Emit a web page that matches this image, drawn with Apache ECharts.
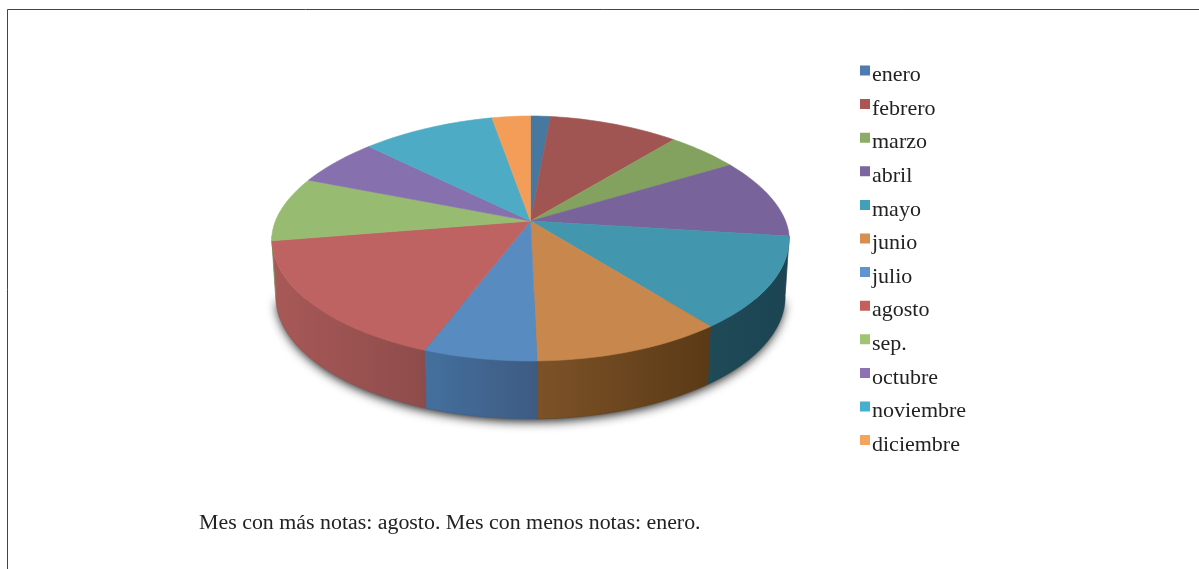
<!DOCTYPE html>
<html><head><meta charset="utf-8">
<style>html,body{margin:0;padding:0;background:#fff}#c{width:1199px;height:569px}</style>
<script src="https://cdn.jsdelivr.net/npm/echarts@6/dist/echarts.min.js"></script>
</head><body><div id="c"></div>
<script>
const months = ['enero','febrero','marzo','abril','mayo','junio','julio','agosto','sep.','octubre','noviembre','diciembre'];
const notes = [1.7,9.8,5.2,10.3,12.3,10.4,6.2,16.6,8.4,6.1,9.9,3.2];
const topColors = ['#47789f','#a05552','#84a25f','#78639a','#4296ad','#c8874c','#588bc0','#be6361','#98bb72','#8670ae','#4dabc5','#f49d58'];
const legendColors = ['#4f7cb0','#ab5652','#8cac67','#7d66a0','#40a0b8','#d68f50','#5f94cf','#c45f5c','#9fc474','#8c72b4','#45b0cd','#f6a35e'];
const wallLeft = ['#3a6080','#804440','#6c8550','#635080','#1f4a58','#7d5228','#44709e','#a85957','#7c9a5c','#6e5a90','#3e8aa0','#c07f45'];
const wallRight = ['#3a6080','#804440','#6c8550','#635080','#1c4452','#5a3a16','#3e5b82','#8d4c4b','#7c9a5c','#6e5a90','#3e8aa0','#c07f45'];
const noteText = 'Mes con más notas: agosto. Mes con menos notas: enero.';

const total = notes.reduce((a,b)=>a+b,0);
let running = 0;
const starts = notes.map(v=>{const s=running; running+=v; return s;});

// perspective disk: angle clockwise from the top -> projected position around the apex
const DEPTH = 58, BOTTOM_SCALE = 0.985, WALL_FROM = 97, WALL_TO = 263, RIM_P = 1.87;
function project(deg){
  const t = deg*Math.PI/180, u = Math.sin(t), v = -Math.cos(t), f = 1 - v/7;
  let x = 256*u/f;
  const y = 120*v/f;
  const h = Math.min((17-y)/122.5, 0.9999);
  if(h>0) x *= Math.pow(1-Math.pow(h,RIM_P),1/RIM_P)/Math.sqrt(1-h*h);
  return [x, y];
}
function arc(a,b,step){
  const n = Math.max(2,Math.ceil(Math.abs(b-a)/(step||1.5))), out=[];
  for(let i=0;i<=n;i++) out.push(a+(b-a)*i/n);
  return out;
}
function sliceItem(i){
  return function(params, api){
    const a = api.value(1)/total*360, b = a + api.value(0)/total*360;
    const c = p=>api.coord(p);
    const children = [];
    const top = [c([0,0])].concat(arc(a,b).map(d=>c(project(d))));
    children.push({type:'polygon',z2:2,shape:{points:top},
      style:{fill:topColors[i],stroke:topColors[i],lineWidth:0.6}});
    const wa = Math.max(a,WALL_FROM), wb = Math.min(b,WALL_TO);
    if(wb>wa){
      const upper = arc(wa,wb).map(d=>c(project(d)));
      const lower = arc(wb,wa).map(d=>{const p=project(d);return c([p[0]*BOTTOM_SCALE,p[1]+DEPTH]);});
      children.push({type:'polygon',z2:1,shape:{points:upper.concat(lower)},
        style:{stroke:wallRight[i],lineWidth:0.4,
          fill:{type:'linear',x:0,y:0,x2:1,y2:0,colorStops:[{offset:0,color:wallLeft[i]},{offset:1,color:wallRight[i]}]}}});
    }
    return {type:'group',children};
  };
}
const sliceSeries = months.map((m,i)=>({
  type:'custom',name:m,coordinateSystem:'cartesian2d',clip:false,silent:true,
  data:[[notes[i],starts[i]]],renderItem:sliceItem(i)
}));
const shadowSeries = {
  type:'custom',name:'sombra',coordinateSystem:'cartesian2d',clip:false,silent:true,
  data:[[0,0]],
  renderItem:(params,api)=>({type:'polygon',z2:0,
    shape:{points:arc(100,260,3).map(d=>{const p=project(d);return api.coord([p[0]*0.98,p[1]+DEPTH-1]);})},
    style:{fill:'#555',shadowBlur:11,shadowColor:'rgba(0,0,0,0.95)',shadowOffsetX:0,shadowOffsetY:3}})
};

const chart = echarts.init(document.getElementById('c'),null,{renderer:'canvas'});
chart.setOption({
  animation:false,
  backgroundColor:'#fff',
  grid:{left:272,width:517,top:116,height:245},
  xAxis:{type:'value',min:-258.5,max:258.5,show:false},
  yAxis:{type:'value',min:-105,max:140,inverse:true,show:false},
  legend:{
    orient:'vertical',left:860,top:64.5,padding:0,itemWidth:10,itemHeight:20,itemGap:11.6,selectedMode:false,
    textStyle:{fontFamily:'Liberation Serif',fontSize:22,color:'#222',lineHeight:20,padding:[0,0,0,-3]},
    data:months.map((m,i)=>({name:m,icon:'path://M0 0H10V10H0ZM0 20L10 20',itemStyle:{color:legendColors[i]}}))
  },
  title:{text:noteText,left:199,top:512,padding:0,textStyle:{fontFamily:'Liberation Serif',fontSize:21.9,fontWeight:'normal',color:'#222'}},
  graphic:[
    {type:'line',silent:true,shape:{x1:7.5,y1:9.5,x2:1199,y2:9.5},style:{stroke:'#a3143f',lineWidth:1}},
    {type:'line',silent:true,shape:{x1:7.5,y1:9.5,x2:7.5,y2:569},style:{stroke:'#a3143f',lineWidth:1}}
  ],
  series:[shadowSeries].concat(sliceSeries)
});
</script></body></html>
